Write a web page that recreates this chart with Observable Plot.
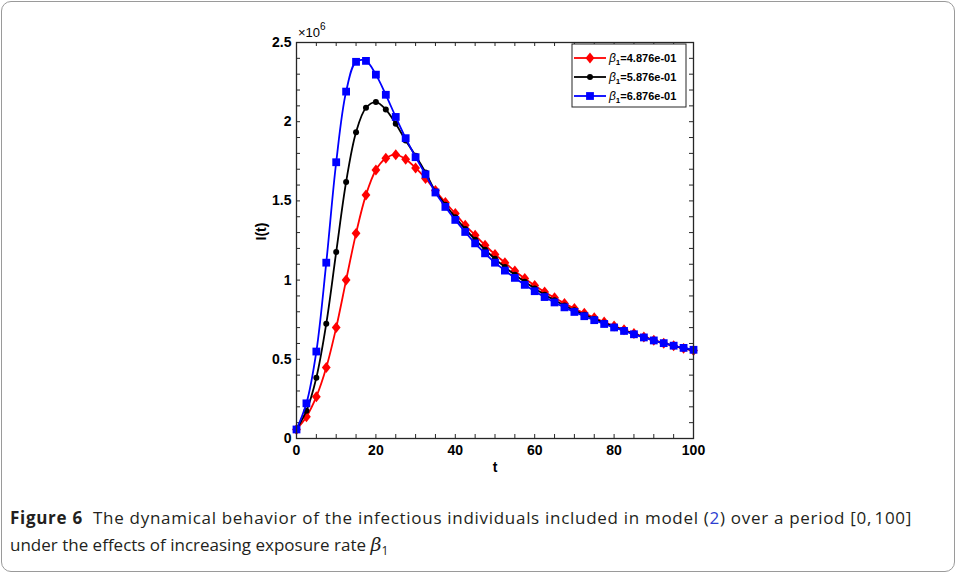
<!DOCTYPE html>
<html>
<head>
<meta charset="utf-8">
<script src="https://cdn.jsdelivr.net/npm/d3@7"></script>
<script src="https://cdn.jsdelivr.net/npm/@observablehq/plot@0.6"></script>
<style>
  html, body { margin: 0; padding: 0; background: #fff; }
  body { width: 958px; height: 575px; position: relative; overflow: hidden; }
  #frame { position: absolute; left: 1px; top: 1px; width: 954px; height: 571px; border: 1px solid #9a9a9a; border-radius: 10px; box-sizing: border-box; }
  #chart { position: absolute; left: 0; top: 0; }
  #caption { position: absolute; left: 10px; top: 505px; width: 940px; font-family: "Open Sans", sans-serif; font-size: 17px; line-height: 26px; color: #231f20; white-space: nowrap; }
  #caption b { font-weight: 700; }
  #caption .ref { color: #2e3fd0; }
  #caption .beta { font-family: "DejaVu Serif", serif; font-style: italic; font-size: 19px; }
  #caption sub { font-size: 12px; }
</style>
</head>
<body>
<div id="frame"></div>
<div id="chart"></div>
<div id="caption"><span id="cap1"><b>Figure 6</b>&nbsp; The dynamical behavior of the infectious individuals included in model (<span class="ref">2</span>) over a period [0,&#8202;100]</span><br><span id="cap2">under the effects of increasing exposure rate <span class="beta">β</span><sub>1</sub></span></div>
<script>
// time points (days)
const tValues = [0, 2.5, 5, 7.5, 10, 12.5, 15, 17.5, 20, 22.5, 25, 27.5, 30, 32.5, 35, 37.5, 40, 42.5, 45, 47.5, 50,
  52.5, 55, 57.5, 60, 62.5, 65, 67.5, 70, 72.5, 75, 77.5, 80, 82.5, 85, 87.5, 90, 92.5, 95, 97.5, 100];

// I(t) in units of 10^6
const seriesNames = ["4.876e-01", "5.876e-01", "6.876e-01"];
const seriesColors = ["#ff0000", "#000000", "#0000ff"];

const I_beta1 = [0.057, 0.137, 0.264, 0.448, 0.700, 1.000, 1.295, 1.538, 1.695, 1.769, 1.792, 1.763, 1.708, 1.642,
  1.565, 1.490, 1.420, 1.346, 1.283, 1.220, 1.162, 1.110, 1.057, 1.010, 0.966, 0.925, 0.888, 0.853, 0.820, 0.790,
  0.762, 0.735, 0.710, 0.686, 0.663, 0.641, 0.621, 0.602, 0.585, 0.569, 0.556];
const I_beta2 = [0.057, 0.175, 0.384, 0.725, 1.177, 1.620, 1.934, 2.088, 2.124, 2.077, 1.987, 1.881, 1.785, 1.680,
  1.560, 1.476, 1.397, 1.323, 1.255, 1.192, 1.134, 1.082, 1.034, 0.989, 0.947, 0.908, 0.873, 0.840, 0.809, 0.781,
  0.755, 0.730, 0.706, 0.683, 0.661, 0.640, 0.620, 0.602, 0.585, 0.570, 0.557];
const I_beta3 = [0.057, 0.222, 0.549, 1.110, 1.744, 2.190, 2.378, 2.384, 2.297, 2.170, 2.030, 1.896, 1.776, 1.668,
  1.553, 1.462, 1.380, 1.304, 1.232, 1.169, 1.110, 1.060, 1.014, 0.970, 0.930, 0.893, 0.859, 0.828, 0.799, 0.772,
  0.747, 0.723, 0.701, 0.679, 0.658, 0.638, 0.619, 0.602, 0.586, 0.572, 0.560];

const xTickLabels = [0, 20, 40, 60, 80, 100];
const xMinorTicks = [0, 5, 10, 15, 20, 25, 30, 35, 40, 45, 50, 55, 60, 65, 70, 75, 80, 85, 90, 95, 100];
const yTickLabels = [0, 0.5, 1, 1.5, 2, 2.5];
const yMinorTicks = [0, 0.1, 0.2, 0.3, 0.4, 0.5, 0.6, 0.7, 0.8, 0.9, 1, 1.1, 1.2, 1.3, 1.4, 1.5, 1.6, 1.7, 1.8, 1.9,
  2, 2.1, 2.2, 2.3, 2.4, 2.5];

const allSeries = [I_beta1, I_beta2, I_beta3];
const data = allSeries.flatMap((vals, i) => vals.map((v, j) => ({t: tValues[j], I: v, s: seriesNames[i]})));

// MATLAB-like diamond (slightly taller than wide)
const matDiamond = {
  draw(context, size) {
    const h = Math.sqrt(size) * 0.62, w = h * 0.8;
    context.moveTo(0, -h); context.lineTo(w, 0); context.lineTo(0, h); context.lineTo(-w, 0); context.closePath();
  }
};
const seriesSymbols = [matDiamond, d3.symbolCircle, d3.symbolSquare];
const markerR = [5.0, 3.0, 4.4];

const W = 958, H = 480;
const mL = 296, mR = 265, mT = 42, mB = 42;
const pw = W - mL - mR, ph = H - mT - mB;
const tick = 4;
const axisColor = "#262626";

const marks = [];
// tick marks on all four sides, pointing inward
marks.push(Plot.tickX(xMinorTicks, {x: d => d, insetTop: ph - tick, stroke: axisColor, strokeWidth: 1}));
marks.push(Plot.tickX(xMinorTicks, {x: d => d, insetBottom: ph - tick, stroke: axisColor, strokeWidth: 1}));
marks.push(Plot.tickY(yMinorTicks, {y: d => d, insetRight: pw - tick, stroke: axisColor, strokeWidth: 1}));
marks.push(Plot.tickY(yMinorTicks, {y: d => d, insetLeft: pw - tick, stroke: axisColor, strokeWidth: 1}));

seriesNames.forEach((name, i) => {
  const rows = data.filter(d => d.s === name);
  marks.push(Plot.line(rows, {x: "t", y: "I", stroke: seriesColors[i], strokeWidth: 1.8, curve: "catmull-rom"}));
  marks.push(Plot.dot(rows, {x: "t", y: "I", symbol: seriesSymbols[i], fill: seriesColors[i], stroke: "none", r: markerR[i]}));
});

marks.push(Plot.frame({stroke: axisColor, strokeWidth: 1.3}));
marks.push(Plot.axisX(xTickLabels, {tickSize: 0, tickPadding: 7, label: null, fontSize: 14, fontWeight: "bold", fill: "#000"}));
marks.push(Plot.axisY(yTickLabels, {tickSize: 0, tickPadding: 5, label: null, fontSize: 14, fontWeight: "bold", fill: "#000",
  tickFormat: d => String(d)}));
marks.push(Plot.text(["t"], {frameAnchor: "bottom", dy: 33, fontSize: 14, fontWeight: "bold", fill: "#000"}));
marks.push(Plot.text(["I(t)"], {frameAnchor: "left", dx: -35, rotate: -90, fontSize: 14, fontWeight: "bold", fill: "#000"}));

const plot = Plot.plot({
  width: W, height: H,
  marginLeft: mL, marginRight: mR, marginTop: mT, marginBottom: mB,
  x: {domain: [0, 100]},
  y: {domain: [0, 2.5]},
  style: {fontFamily: "'Liberation Sans', Arial, sans-serif", background: "transparent"},
  marks
});
document.getElementById("chart").appendChild(plot);

// exponent label and legend
const svg = d3.select(plot);
const ex = svg.append("text").attr("x", mL + 2).attr("y", mT - 5).attr("text-anchor", "start")
  .style("font-family", "'Liberation Sans', Arial, sans-serif").style("font-size", "13px").attr("fill", "#000");
ex.append("tspan").text("×10");
ex.append("tspan").attr("dy", -7).style("font-size", "10px").text("6");

const lg = svg.append("g");
const lx = 572, ly = 44, lw = 114, lh = 63;
lg.append("rect").attr("x", lx).attr("y", ly).attr("width", lw).attr("height", lh)
  .attr("fill", "#fff").attr("stroke", axisColor).attr("stroke-width", 1);
seriesNames.forEach((name, i) => {
  const cy = ly + 14 + i * 19;
  lg.append("line").attr("x1", lx + 2).attr("x2", lx + 34).attr("y1", cy).attr("y2", cy)
    .attr("stroke", seriesColors[i]).attr("stroke-width", 1.8);
  lg.append("path").attr("transform", `translate(${lx + 18},${cy})`)
    .attr("d", d3.symbol(seriesSymbols[i], markerR[i] * markerR[i] * Math.PI)())
    .attr("fill", seriesColors[i]);
  const tx = lg.append("text").attr("x", lx + 37).attr("y", cy + 4).attr("text-anchor", "start")
    .style("font-family", "'Liberation Sans', Arial, sans-serif").style("font-size", "11px")
    .style("font-weight", "bold").attr("fill", "#000");
  tx.append("tspan").style("font-style", "italic").style("font-weight", "normal").style("font-size", "12px").text("β");
  tx.append("tspan").attr("dy", 3).style("font-size", "8px").text("1");
  tx.append("tspan").attr("dy", -3).text("=" + name);
});

// fit caption line width to the reference
const fit = (id, target) => {
  const el = document.getElementById(id);
  const w = el.getBoundingClientRect().width;
  const ls = (target - w) / Math.max(1, el.textContent.length);
  el.style.letterSpacing = ls.toFixed(3) + "px";
};
fit("cap1", 902);
</script>
</body>
</html>
